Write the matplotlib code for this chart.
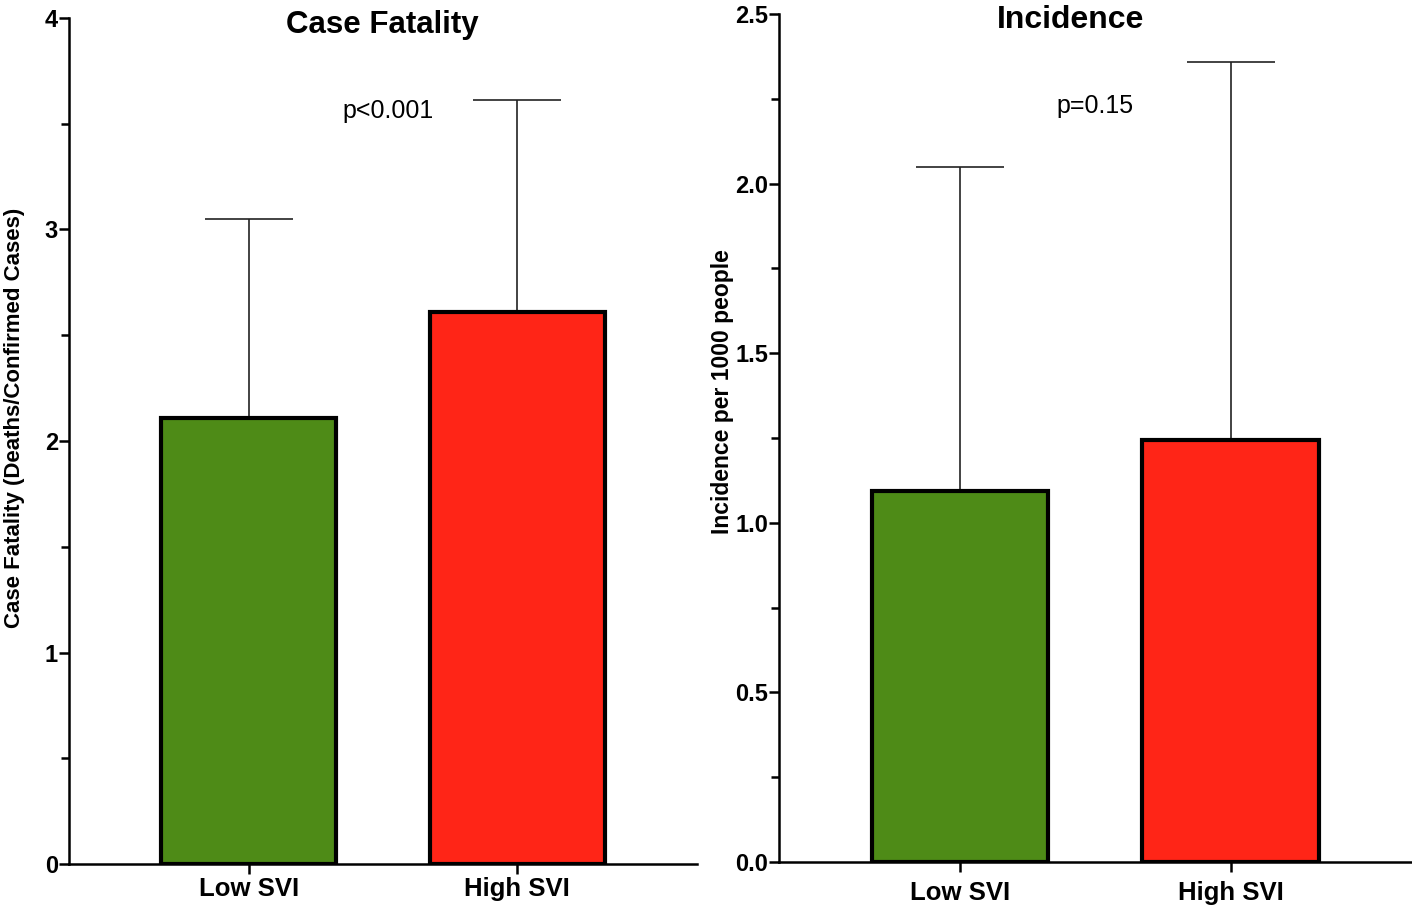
import matplotlib
matplotlib.use("Agg")
import matplotlib.pyplot as plt
from matplotlib.ticker import MultipleLocator, FormatStrFormatter

plt.rcParams['font.family'] = ['Liberation Sans', 'DejaVu Sans']

groups = ["Low SVI", "High SVI"]
colors = ["#4E8B17", "#FF2517"]

cf_mean = [2.11, 2.61]
cf_upper = [3.05, 3.61]
inc_mean = [1.094, 1.244]
inc_upper = [2.049, 2.358]

W, H = 1412, 909
fig = plt.figure(figsize=(W / 100, H / 100), dpi=100)
ax1 = fig.add_axes([0.0489, 0.0495, 0.4448, 0.9307])
ax2 = fig.add_axes([0.5517, 0.0517, 0.4483, 0.9329])

def draw(ax, means, uppers, ylim, major, minor, fmt, xpad, ptext, ptext_xy):
    x = list(range(len(groups)))
    err = [[0] * len(means), [u - m for u, m in zip(uppers, means)]]
    ax.bar(x, means, width=0.652, color=colors, edgecolor='black', linewidth=3.0, zorder=3)
    ax.errorbar(x, means, yerr=err, fmt='none', ecolor='#222222', elinewidth=1.2,
                capsize=32, capthick=1.2, zorder=2)
    ax.set_xlim(-0.668, 1.669)
    ax.set_ylim(*ylim)
    ax.yaxis.set_major_locator(MultipleLocator(major))
    ax.yaxis.set_minor_locator(MultipleLocator(minor))
    ax.yaxis.set_major_formatter(FormatStrFormatter(fmt))
    ax.set_xticks(x)
    ax.set_xticklabels(groups, fontsize=18.5, fontweight='bold')
    for lab in ax.get_yticklabels():
        lab.set_fontweight('bold')
    ax.tick_params(axis='y', which='major', labelsize=17, length=7, width=1.8, pad=1)
    ax.tick_params(axis='y', which='minor', length=6, width=1.8)
    ax.tick_params(axis='x', length=7, width=1.8, pad=xpad)
    for s in ['top', 'right']:
        ax.spines[s].set_visible(False)
    for s in ['left', 'bottom']:
        ax.spines[s].set_linewidth(1.8)
    ax.text(ptext_xy[0], ptext_xy[1], ptext, ha='center', va='center', fontsize=18)

draw(ax1, cf_mean, cf_upper, (0, 4), 1, 0.5, '%d', 2, 'p<0.001', (0.52, 3.56))
draw(ax2, inc_mean, inc_upper, (0, 2.5), 0.5, 0.25, '%.1f', 7, 'p=0.15', (0.50, 2.23))

fig.text(382 / W, 1 - 25 / H, 'Case Fatality', ha='center', va='center',
         fontsize=22.5, fontweight='bold')
fig.text(1071 / W, 1 - 20 / H, 'Incidence', ha='center', va='center',
         fontsize=23, fontweight='bold')
fig.text(15 / W, 1 - 418 / H, 'Case Fatality (Deaths/Confirmed Cases)', rotation=90,
         ha='center', va='center', fontsize=16, fontweight='bold')
fig.text(722 / W, 1 - 392 / H, 'Incidence per 1000 people', rotation=90,
         ha='center', va='center', fontsize=16.5, fontweight='bold')

fig.savefig('out.png', dpi=100)
